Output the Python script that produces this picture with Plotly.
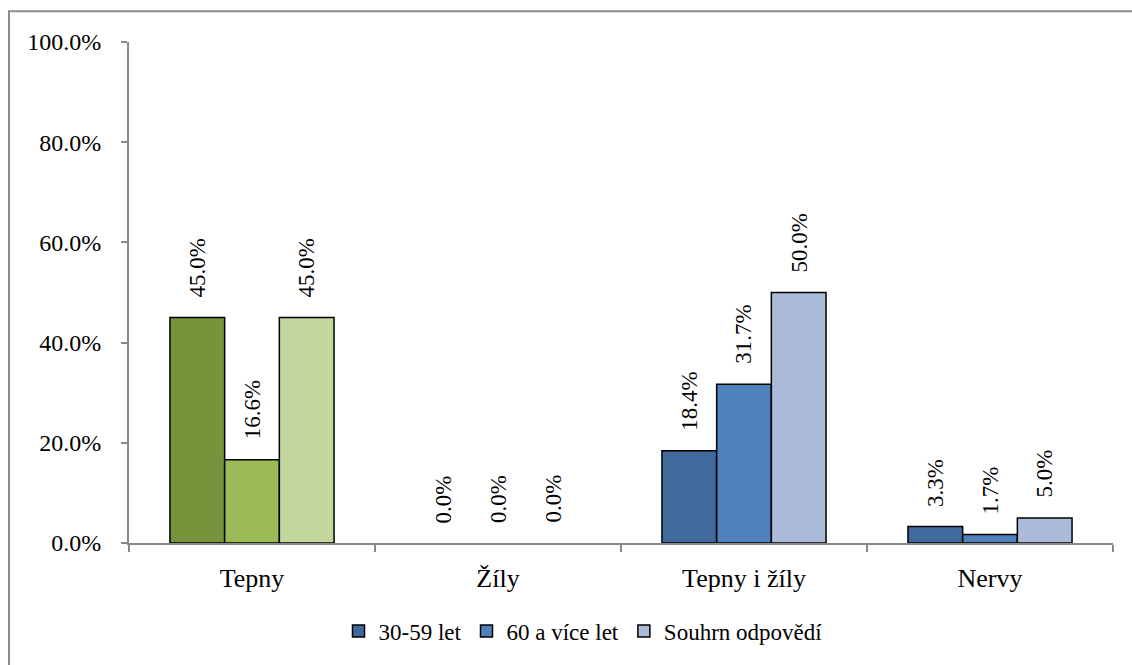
import plotly.graph_objects as go

# Survey answers by age group (share of respondents)
categories = ["Tepny", "Žíly", "Tepny i žíly", "Nervy"]
series_names = ["30-59 let", "60 a více let", "Souhrn odpovědí"]
values_30_59 = [0.450, 0.0, 0.184, 0.033]
values_60_plus = [0.166, 0.0, 0.317, 0.017]
values_total = [0.450, 0.0, 0.500, 0.050]
y_ticks = [0.0, 0.2, 0.4, 0.6, 0.8, 1.0]

series_values = [values_30_59, values_60_plus, values_total]
blue_colors = ["#41699B", "#4F81BD", "#AABAD9"]
green_colors = ["#77933C", "#9BBB59", "#C3D69B"]

W, H = 1132, 665
L, R, T, B = 129, 19, 42, 117
plot_w = W - L - R
plot_h = H - T - B

FONT = "Liberation Serif"

fig = go.Figure()
for i, (name, vals) in enumerate(zip(series_names, series_values)):
    # the first category ("Tepny") is highlighted in green shades
    colors = [green_colors[i] if k == 0 else blue_colors[i] for k in range(len(categories))]
    edge_widths = [1.5 if v > 0 else 0 for v in vals]
    fig.add_trace(go.Bar(
        x=categories, y=vals, name=name, offsetgroup=str(i),
        marker=dict(color=colors, line=dict(color="black", width=edge_widths)),
        showlegend=False,
    ))
    # legend entry in the series colour
    fig.add_trace(go.Bar(
        x=[None], y=[None], name=name, offsetgroup=str(i),
        marker=dict(color=blue_colors[i], line=dict(color="black", width=1.5)),
    ))

# rotated value labels above each bar
bar_frac = 0.2217
for i, vals in enumerate(series_values):
    offset = (i - 1) * bar_frac
    for k, v in enumerate(vals):
        fig.add_annotation(
            x=k + offset, y=v, xref="x", yref="y",
            text=f"{v * 100:.1f}%", textangle=-90,
            showarrow=False, yanchor="bottom", xanchor="center",
            yshift=18,
            font=dict(family=FONT, size=23, color="black"),
        )

# outer chart frame
def px_x(p):
    return (p - L) / plot_w

def px_y(p):
    return (H - B - p) / plot_h

fig.add_shape(
    type="rect", xref="paper", yref="paper",
    x0=px_x(9), x1=px_x(1160), y0=px_y(680), y1=px_y(11),
    line=dict(color="#8C8C8C", width=2), fillcolor="rgba(0,0,0,0)",
    layer="below",
)

fig.update_layout(
    width=W, height=H,
    margin=dict(l=L, r=R, t=T, b=B, pad=0),
    paper_bgcolor="white", plot_bgcolor="white",
    barmode="group", bargap=0.333, bargroupgap=0,
    font=dict(family=FONT, size=23, color="black"),
    legend=dict(
        orientation="h", x=px_x(583), xanchor="center",
        y=px_y(637), yanchor="middle",
        font=dict(family=FONT, size=23, color="black"),
        itemwidth=30, traceorder="normal",
    ),
    xaxis=dict(
        type="category", showline=True, linecolor="#898989", linewidth=2,
        ticks="outside", tickson="boundaries", ticklen=7, tickcolor="#898989",
        tickwidth=2, showgrid=False, zeroline=False, ticklabelstandoff=11,
        tickfont=dict(family=FONT, size=26, color="black"),
    ),
    yaxis=dict(
        range=[0, 1], tickvals=y_ticks, tickformat=".1%",
        showline=True, linecolor="#898989", linewidth=2,
        ticks="outside", ticklen=6, tickcolor="#898989", tickwidth=2,
        showgrid=False, zeroline=False, ticklabelstandoff=15,
        tickfont=dict(family=FONT, size=24, color="black"),
    ),
)

fig.write_html("out.html")
